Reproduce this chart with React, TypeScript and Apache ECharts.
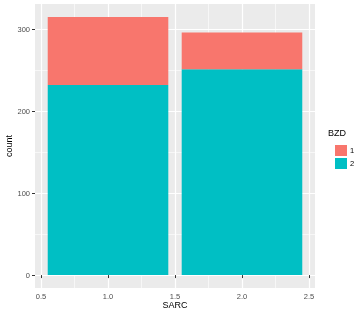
import React, { useEffect, useRef } from "react";
import * as echarts from "echarts";

const sarc = [1, 2];
const bzd2 = [232, 251];
const bzd1 = [83, 45];
const groups = ["1", "2"];
const xMajor = [0.5, 1.0, 1.5, 2.0, 2.5];
const xMinor = [0.75, 1.25, 1.75, 2.25];
const yMajor = [0, 100, 200, 300];
const yMinor = [50, 150, 250];
const barWidth = 0.9;

const colors: Record<string, string> = { "1": "#F8766D", "2": "#00BFC4" };

export default function App() {
  const ref = useRef<HTMLDivElement>(null);
  useEffect(() => {
    if (!ref.current) return;
    const chart = echarts.init(ref.current, null, { renderer: "svg" });
    const xMin = 0.55 - 0.095;
    const xMax = 2.45 + 0.095;
    const total = sarc.map((_, i) => bzd1[i] + bzd2[i]);
    const yMax = Math.max(...total);
    const yLo = -yMax * 0.05;
    const yHi = yMax * 1.05;

    const renderItem = (params: any, api: any) => {
      const x = api.value(0);
      const lo = api.value(1);
      const hi = api.value(2);
      const p1 = api.coord([x - barWidth / 2, hi]);
      const p2 = api.coord([x + barWidth / 2, lo]);
      return {
        type: "rect",
        shape: { x: p1[0], y: p1[1], width: p2[0] - p1[0], height: p2[1] - p1[1] },
        style: { fill: api.visual("color") },
      };
    };

    const data2 = sarc.map((x, i) => [x, 0, bzd2[i]]);
    const data1 = sarc.map((x, i) => [x, bzd2[i], bzd2[i] + bzd1[i]]);

    const font = "Liberation Sans, Arial, sans-serif";
    const baseX = {
      type: "value" as const,
      min: xMin,
      max: xMax,
      gridIndex: 0,
    };
    const baseY = {
      type: "value" as const,
      min: yLo,
      max: yHi,
      gridIndex: 0,
    };

    chart.setOption({
      animation: false,
      grid: {
        left: 35,
        right: 47,
        top: 4,
        bottom: 27,
        show: true,
        containLabel: false,
        outerBoundsMode: "none",
        backgroundColor: "#EBEBEB",
        borderWidth: 0,
      },
      xAxis: [
        {
          ...baseX,
          axisLine: { show: false },
          axisTick: { show: true, customValues: xMajor, length: 3, lineStyle: { color: "#333", width: 1 } },
          axisLabel: {
            customValues: xMajor,
            formatter: (v: number) => v.toFixed(1),
            fontFamily: font,
            fontSize: 7.5,
            color: "#4D4D4D",
            margin: 4,
          },
          splitLine: { show: true, lineStyle: { color: "#FFFFFF", width: 1.2 } },
        },
        {
          ...baseX,
          position: "bottom",
          axisLine: { show: false },
          axisTick: { show: false, customValues: xMinor },
          axisLabel: { show: false, customValues: xMinor },
          splitLine: { show: true, lineStyle: { color: "#FFFFFF", width: 0.6 } },
        },
      ],
      yAxis: [
        {
          ...baseY,
          axisLine: { show: false },
          axisTick: { show: true, customValues: yMajor, length: 3, lineStyle: { color: "#333", width: 1 } },
          axisLabel: {
            customValues: yMajor,
            fontFamily: font,
            fontSize: 7.5,
            color: "#4D4D4D",
            margin: 5,
          },
          splitLine: { show: true, lineStyle: { color: "#FFFFFF", width: 1.2 } },
        },
        {
          ...baseY,
          position: "left",
          axisLine: { show: false },
          axisTick: { show: false, customValues: yMinor },
          axisLabel: { show: false, customValues: yMinor },
          splitLine: { show: true, lineStyle: { color: "#FFFFFF", width: 0.6 } },
        },
      ],
      legend: {
        orient: "vertical",
        left: 330,
        top: 140,
        itemWidth: 12,
        itemHeight: 11,
        itemGap: 2,
        icon: "rect",
        data: groups,
        textStyle: { fontFamily: font, fontSize: 7.5, color: "#000", padding: [0, 0, 0, -2] },
      },
      graphic: [
        {
          type: "text",
          left: 328,
          top: 128,
          style: { text: "BZD", fontFamily: font, fontSize: 9, fill: "#000" },
        },
        {
          type: "text",
          x: 9,
          y: 146,
          rotation: Math.PI / 2,
          style: {
            text: "count",
            fontFamily: font,
            fontSize: 9,
            fill: "#000",
            align: "center",
            verticalAlign: "middle",
          },
        },
        {
          type: "text",
          x: 175,
          y: 305,
          style: {
            text: "SARC",
            fontFamily: font,
            fontSize: 9,
            fill: "#000",
            align: "center",
            verticalAlign: "middle",
          },
        },
      ],
      series: [
        {
          name: "2",
          type: "custom",
          renderItem,
          xAxisIndex: 0,
          yAxisIndex: 0,
          encode: { x: 0, y: [1, 2] },
          itemStyle: { color: colors["2"] },
          data: data2,
        },
        {
          name: "1",
          type: "custom",
          renderItem,
          xAxisIndex: 0,
          yAxisIndex: 0,
          encode: { x: 0, y: [1, 2] },
          itemStyle: { color: colors["1"] },
          data: data1,
        },
      ],
    });
    return () => chart.dispose();
  }, []);
  return (
    <div
      ref={ref}
      style={{ position: "fixed", left: 0, top: 0, width: 362, height: 315 }}
    />
  );
}
